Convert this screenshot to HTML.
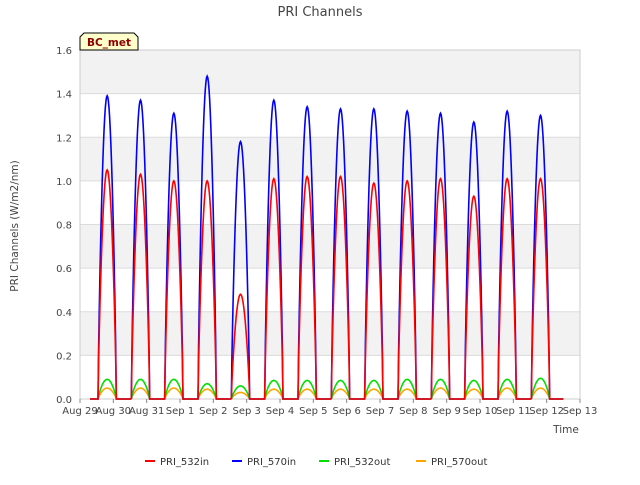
<!DOCTYPE html>
<html><head><meta charset="utf-8"><style>
body{margin:0;background:#fff;font-family:"Liberation Sans","DejaVu Sans",sans-serif}
svg text{font-family:"DejaVu Sans","Liberation Sans",sans-serif}
</style></head><body>
<svg id="chart" width="640" height="480" xmlns="http://www.w3.org/2000/svg">
<rect width="640" height="480" fill="#fff"/>
<g id="bands"></g>
<g id="grid"></g>
<g id="series"></g>
<g id="axes"></g>
<text x="320" y="16" text-anchor="middle" font-size="13" fill="#444">PRI Channels</text>
<text transform="translate(18,226) rotate(-90)" text-anchor="middle" font-size="10.5" fill="#444">PRI Channels (W/m2/nm)</text>
<text x="566" y="433" text-anchor="middle" font-size="10.5" fill="#444">Time</text>
<g>
<path d="M80,50 L80,37 L84,33 L134,33 L138,37 L138,50 Z" fill="#ffffcc" stroke="#000" stroke-width="1"/>
<text x="109" y="46" text-anchor="middle" font-size="10.5" font-weight="bold" fill="#8b0000">BC_met</text>
</g>
<g id="legend"></g>
</svg>
<script>
const dayLabels=["Aug 29","Aug 30","Aug 31","Sep 1","Sep 2","Sep 3","Sep 4","Sep 5","Sep 6","Sep 7","Sep 8","Sep 9","Sep 10","Sep 11","Sep 12","Sep 13"];
const yTicks=[0,0.2,0.4,0.6,0.8,1.0,1.2,1.4,1.6];
const peakDays=[0,1,2,3,4,5,6,7,8,9,10,11,12,13];
const pri532in=[1.05,1.03,1.0,1.0,0.48,1.01,1.02,1.02,0.99,1.0,1.01,0.93,1.01,1.01];
const pri570in=[1.39,1.37,1.31,1.48,1.18,1.37,1.34,1.33,1.33,1.32,1.31,1.27,1.32,1.30];
const pri532out=[0.09,0.09,0.09,0.07,0.06,0.085,0.085,0.085,0.085,0.09,0.09,0.085,0.09,0.095];
const pri570out=[0.05,0.05,0.05,0.045,0.03,0.045,0.045,0.045,0.045,0.045,0.05,0.045,0.05,0.05];
const NS="http://www.w3.org/2000/svg";
const X0=80,X1=580,Y0=399,Y1=50;
const xs=d=>X0+(X1-X0)*d/15;
const ys=v=>Y0-(Y0-Y1)*v/1.6;
function mk(tag,attrs,parent){const e=document.createElementNS(NS,tag);for(const k in attrs)e.setAttribute(k,attrs[k]);parent.appendChild(e);return e;}
const bands=document.getElementById('bands'),grid=document.getElementById('grid'),axes=document.getElementById('axes'),series=document.getElementById('series');
for(let i=0;i<8;i++){if(i%2==1){const r=mk('rect',{x:X0,y:ys(yTicks[i+1]),width:X1-X0,height:ys(yTicks[i])-ys(yTicks[i+1]),fill:'#f2f2f2'},bands);

}}
yTicks.forEach(v=>{const l=mk('line',{x1:X0,x2:X1,y1:ys(v),y2:ys(v),stroke:'#dcdcdc','stroke-width':1},grid);


const t=mk('text',{x:X0-8,y:ys(v)+4,'text-anchor':'end','font-size':10,fill:'#444'},axes);t.textContent=v.toFixed(1);

});
dayLabels.forEach((s,i)=>{const t=mk('text',{x:xs(i),y:414,'text-anchor':'middle','font-size':10,fill:'#444'},axes);t.textContent=s;


const tk=mk('line',{x1:xs(i),x2:xs(i),y1:Y0,y2:Y0+4,stroke:'#888'},axes);

});
mk('rect',{x:X0,y:Y1,width:X1-X0,height:Y0-Y1,fill:'none',stroke:'#ccc'},grid);
function path(vals,color,name){let d=`M${xs(0.3)},${ys(0)}`;
peakDays.forEach((day,i)=>{const a=day+0.54,b=day+1.09;d+=` L${xs(a)},${ys(0)}`;
for(let k=0;k<=30;k++){const u=k/30;const v=vals[i]*Math.pow(Math.sin(Math.PI*u),0.8);d+=` L${xs(a+(b-a)*u).toFixed(2)},${ys(v).toFixed(2)}`;}});
d+=` L${xs(14.5)},${ys(0)}`;
const p=mk('path',{d:d,fill:'none',stroke:color,'stroke-width':1.6},series);

}
path(pri570out,'#ffa500','pri-570out-line');
path(pri532out,'#00e000','pri-532out-line');
path(pri570in,'#0000ff','pri-570in-line');
path(pri532in,'#ff0000','pri-532in-line');
const lg=document.getElementById('legend');
[['PRI_532in','#ff0000',145],['PRI_570in','#0000ff',232],['PRI_532out','#00e000',319],['PRI_570out','#ffa500',416]].forEach(([n,c,x])=>{
const g=mk('g',{},lg);


mk('line',{x1:x,x2:x+10,y1:461,y2:461,stroke:c,'stroke-width':2},g);
const t=mk('text',{x:x+15,y:465,'font-size':10,fill:'#333'},g);t.textContent=n;});
</script>
</body></html>
